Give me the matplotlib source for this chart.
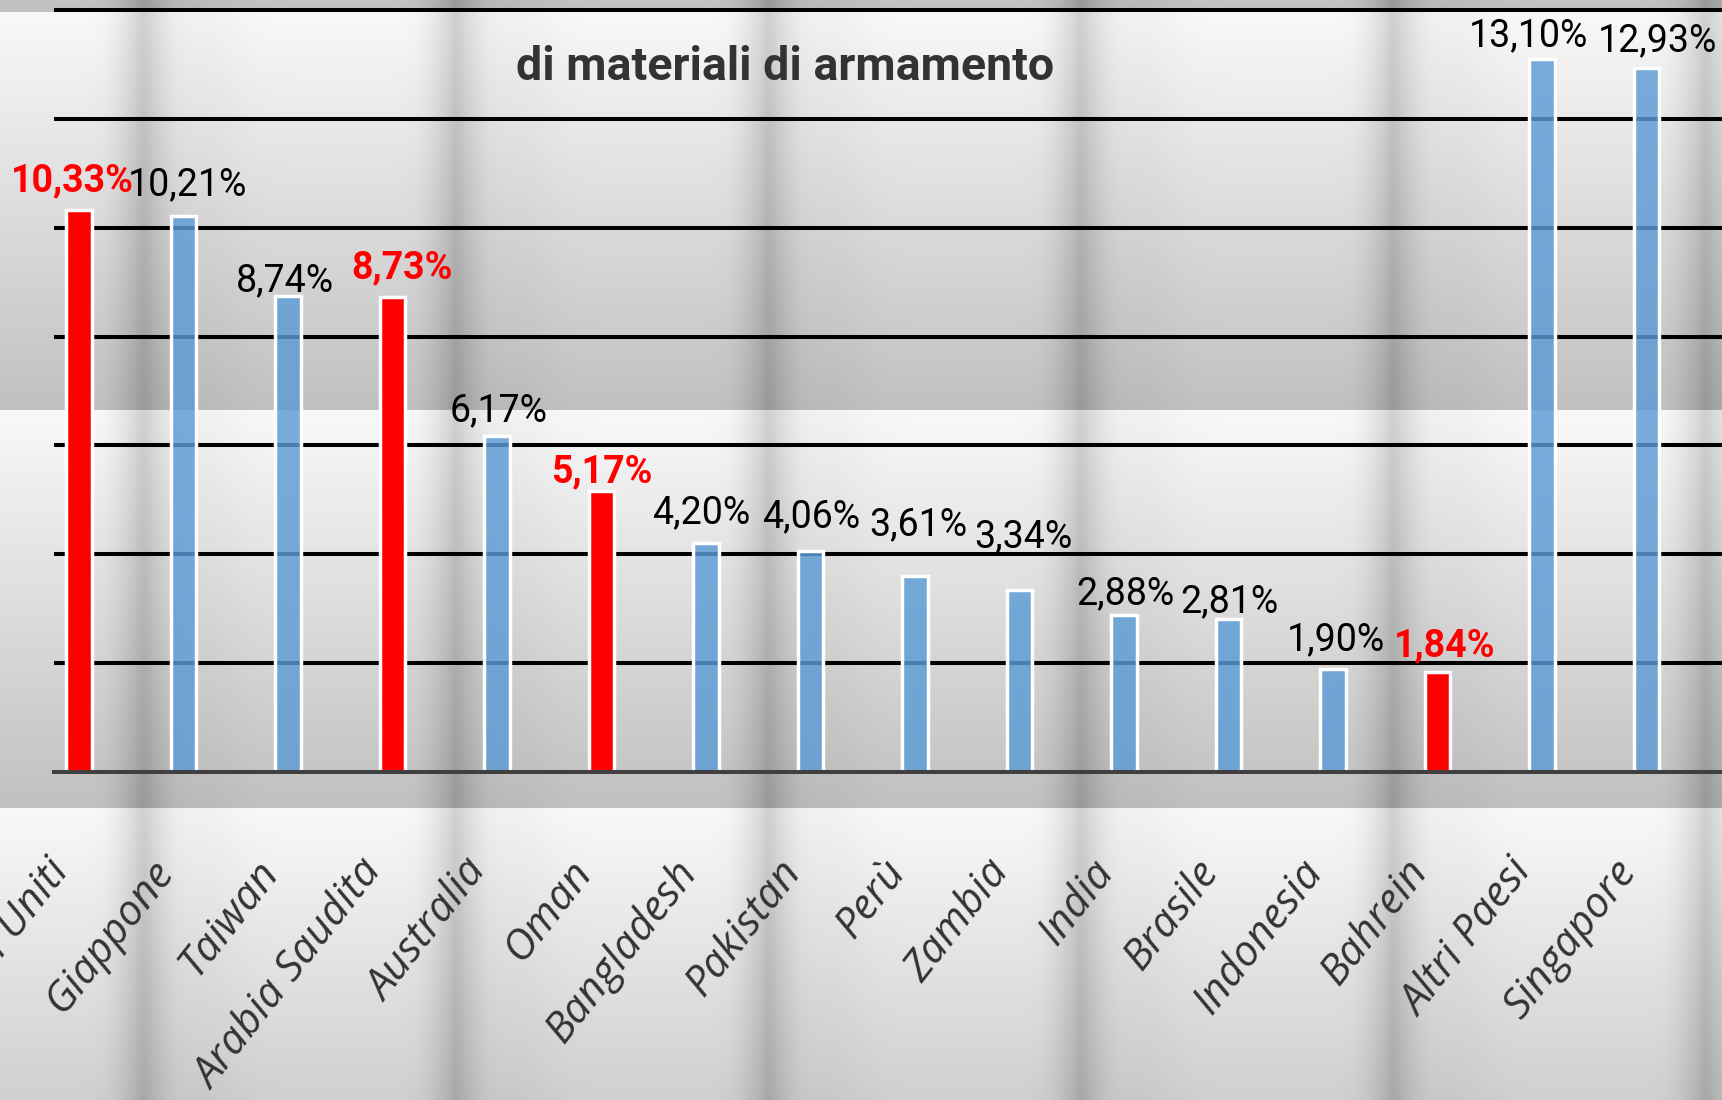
import numpy as np
import matplotlib
matplotlib.use("Agg")
import matplotlib.pyplot as plt

# ---------------- data ----------------
categories = ["Stati Uniti", "Giappone", "Taiwan", "Arabia Saudita", "Australia", "Oman",
              "Bangladesh", "Pakistan", "Perù", "Zambia", "India", "Brasile", "Indonesia",
              "Bahrein", "Altri Paesi", "Singapore"]
values = [10.33, 10.21, 8.74, 8.73, 6.17, 5.17, 4.20, 4.06, 3.61, 3.34,
          2.88, 2.81, 1.90, 1.84, 13.10, 12.93]
highlighted = ["Stati Uniti", "Arabia Saudita", "Oman", "Bahrein"]
title = "di materiali di armamento"
y_ticks = [2, 4, 6, 8, 10, 12, 14]

# label placement tweaks (pixels, relative to bar top centre)
label_dx = [-7, 4, -3, 9, 2, 0, -5, 1, 3, 4, 1, 1, 3, 7, -14, 11]
label_dy = [18, 21, 5, 18, 15, 8, 20, 24, 40, 43, 11, 7, 18, 16, 13, 17]

NARROW = ["Roboto", "DejaVu Sans"]
ITALIC = ["Open Sans", "DejaVu Sans"]

W, H = 1722, 1100
DPI = 100
PT = 72.0 / DPI  # points per pixel

fig = plt.figure(figsize=(W / DPI, H / DPI), dpi=DPI)

# ---------------- background texture ----------------
yy = np.arange(H)[:, None].astype(float)
xx = np.arange(W)[None, :].astype(float)
t = ((yy - 12) % 398) / 398.0
vert = 0.975 - 0.22 * t
P = 312.5
d = ((xx - 143 + P / 2) % P) - P / 2
horiz = (-0.12 * np.exp(-(d / 26.0) ** 2)
         - 0.03 * np.exp(-(d / 7.0) ** 2)
         - 0.025 * np.exp(-((d - 60) / 40.0) ** 2))
bg = np.clip(vert + horiz, 0, 1)
img = np.dstack([bg, bg, bg])
fig.figimage(img, 0, 0, origin="upper", zorder=-10)

# ---------------- axes ----------------
ax = fig.add_axes([54 / W, (H - 772) / H, 1 - 54 / W, 772 / H])
ax.set_facecolor("none")

x = np.arange(len(categories))
blue = (0x5b / 255, 0x9b / 255, 0xd5 / 255, 0.82)
colors = ["#ff0000" if c in highlighted else blue for c in categories]
ax.bar(x, values, width=0.244, color=colors, edgecolor="white",
       linewidth=2.5, zorder=3)

ax.set_xlim(-25 / 104.5, (W - 79) / 104.5)
ax.set_ylim(0, 772 / 54.43)
ax.set_yticks(y_ticks)
ax.yaxis.grid(True, color="black", linewidth=2.9)
ax.set_axisbelow(True)
ax.tick_params(axis="both", length=0, labelleft=False, labelbottom=False)
ax.set_xticks(x)
for s in ["left", "right", "top"]:
    ax.spines[s].set_visible(False)
ax.spines["bottom"].set_color("#404040")
ax.spines["bottom"].set_linewidth(2.9)
ax.spines["bottom"].set_zorder(4)

# value labels
for i, (c, v) in enumerate(zip(categories, values)):
    lbl = f"{v:.2f}".replace(".", ",") + "%"
    hl = c in highlighted
    ax.annotate(lbl, xy=(i, v), xytext=(label_dx[i] * PT, label_dy[i] * PT),
                textcoords="offset points", ha="center", va="baseline",
                fontsize=27, family=NARROW,
                fontweight="bold" if hl else "normal",
                color="#ff0000" if hl else "#000000",
                annotation_clip=False, zorder=6)

# category labels
for i, c in enumerate(categories):
    ax.annotate(c, xy=(i, 0), xycoords=("data", "axes fraction"),
                xytext=(-34 * PT, -80 * PT), textcoords="offset points",
                rotation=52, rotation_mode="anchor", ha="right", va="top",
                fontsize=30.5, fontstyle="italic", family=ITALIC,
                color="#333333", annotation_clip=False)

# title
fig.text(785 / W, 1 - 80 / H, title, ha="center", va="baseline",
         fontsize=33.5, fontweight="bold", family=NARROW, color="#333333")

fig.savefig("out.png", dpi=DPI)
